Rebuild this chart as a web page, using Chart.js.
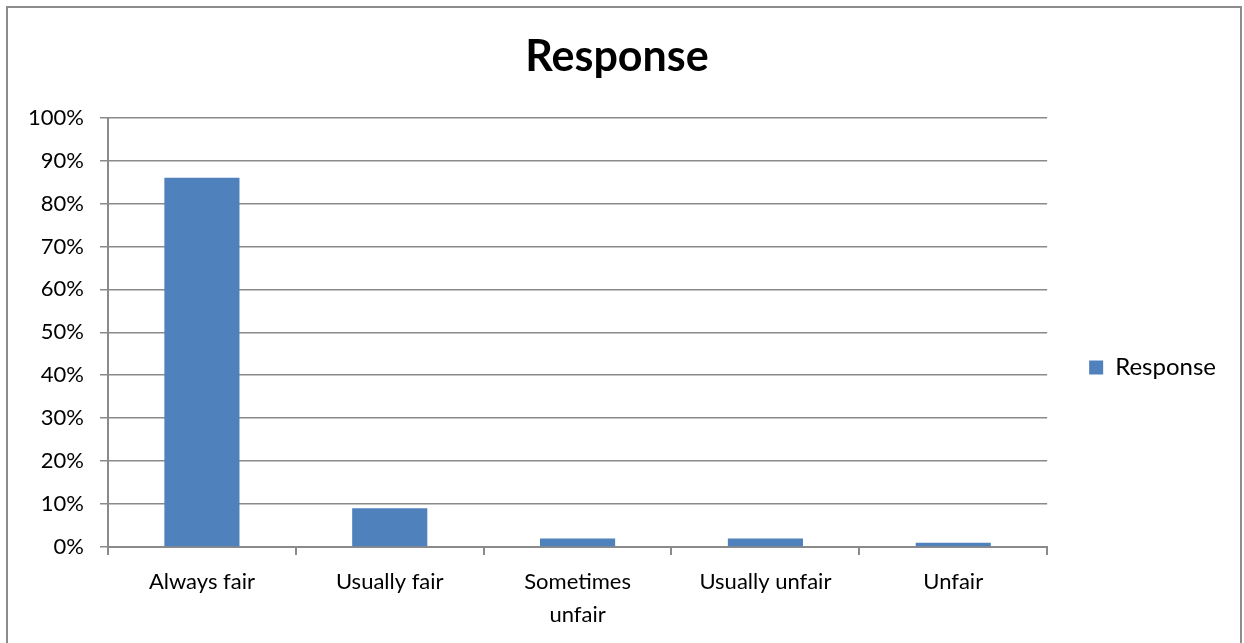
<!DOCTYPE html>
<html>
<head>
<meta charset="utf-8">
<script src="https://cdn.jsdelivr.net/npm/chart.js@4/dist/chart.umd.min.js"></script>
<style>
  html, body { margin: 0; padding: 0; background: #fff; }
  #wrap { position: relative; width: 1244px; height: 643px; }
</style>
</head>
<body>
<div id="wrap"><canvas id="c" width="1244" height="643"></canvas></div>
<script>
const categories = ["Always fair", "Usually fair", ["Sometimes", "unfair"], "Usually unfair", "Unfair"];
const seriesName = "Response";
const responseValues = [86, 9, 2, 2, 1];
const yTicks = [0, 10, 20, 30, 40, 50, 60, 70, 80, 90, 100];

const FONT = "Lato, 'Open Sans', sans-serif";
const GRID = "#8a8a8a";

const borderPlugin = {
  id: "outerBorder",
  beforeDraw(chart) {
    const ctx = chart.ctx;
    ctx.save();
    ctx.fillStyle = "#fff";
    ctx.fillRect(0, 0, chart.width, chart.height);
    ctx.strokeStyle = "#8c8c8c";
    ctx.lineWidth = 2;
    ctx.strokeRect(7, 7, 1234, 660);
    ctx.restore();
  }
};

new Chart(document.getElementById("c"), {
  type: "bar",
  data: {
    labels: categories,
    datasets: [{
      label: seriesName,
      data: responseValues,
      backgroundColor: "#4F81BD",
      borderWidth: 0,
      categoryPercentage: 1.0,
      barPercentage: 0.4
    }]
  },
  options: {
    responsive: false,
    animation: false,
    devicePixelRatio: 1,
    layout: { padding: { left: 8, right: 18, top: 20, bottom: 0 } },
    plugins: {
      title: {
        display: true,
        text: seriesName,
        color: "#000",
        font: { family: FONT, size: 43, weight: "bold" },
        padding: { top: 11, bottom: 35 }
      },
      legend: {
        display: true,
        position: "right",
        title: {
          display: true,
          text: " ",
          font: { family: FONT, size: 10 },
          padding: { top: 0, bottom: 60 }
        },
        labels: {
          color: "#000",
          font: { family: FONT, size: 24 },
          boxWidth: 14,
          boxHeight: 14,
          padding: 42
        }
      },
      tooltip: { enabled: false }
    },
    scales: {
      x: {
        offset: true,
        grid: {
          offset: true,
          drawOnChartArea: false,
          drawTicks: true,
          tickLength: 8,
          color: GRID,
          lineWidth: 2
        },
        border: { display: true, color: GRID, width: 2 },
        ticks: {
          color: "#000",
          font: { family: FONT, size: 22, lineHeight: 1.5 },
          padding: 10,
          maxRotation: 0,
          autoSkip: false
        },
        afterFit(scale) { scale.height = 96; }
      },
      y: {
        min: 0,
        max: 100,
        afterBuildTicks(scale) { scale.ticks = yTicks.map(v => ({ value: v })); },
        grid: {
          color: GRID,
          lineWidth: 1.5,
          drawTicks: true,
          tickLength: 8
        },
        border: { display: true, color: GRID, width: 2 },
        ticks: {
          color: "#000",
          font: { family: FONT, size: 22 },
          padding: 16,
          callback: v => v + "%"
        },
        afterFit(scale) { scale.width = 100; }
      }
    }
  },
  plugins: [borderPlugin]
});
</script>
</body>
</html>
